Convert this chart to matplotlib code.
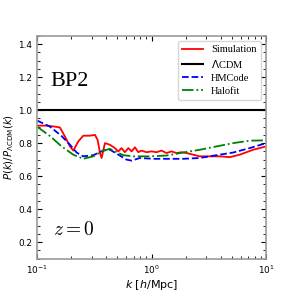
import numpy as np
import matplotlib
matplotlib.use("Agg")
import matplotlib.pyplot as plt
from matplotlib.ticker import AutoMinorLocator, LogLocator, NullFormatter

# log10(k) and ratio values
sim_logk = [-1.0, -0.916, -0.843, -0.80, -0.756, -0.712, -0.683, -0.64, -0.596, -0.538,
            -0.494, -0.471, -0.45, -0.436, -0.407, -0.363, -0.32, -0.29, -0.262, -0.233,
            -0.203, -0.174, -0.145, -0.116, -0.087, -0.044, 0.0, 0.044, 0.087, 0.131,
            0.174, 0.218, 0.262, 0.305, 0.363, 0.42, 0.509, 0.596, 0.683, 0.77, 0.887, 1.0]
sim_ratio = [0.906, 0.906, 0.90, 0.895, 0.84, 0.78, 0.755, 0.81, 0.845, 0.845,
             0.85, 0.82, 0.74, 0.71, 0.80, 0.79, 0.77, 0.75, 0.77, 0.745,
             0.77, 0.75, 0.775, 0.745, 0.755, 0.745, 0.75, 0.745, 0.755, 0.74,
             0.75, 0.74, 0.745, 0.74, 0.73, 0.72, 0.72, 0.72, 0.715, 0.73, 0.76, 0.78]

hm_logk = [-1.0, -0.887, -0.785, -0.712, -0.654, -0.596, -0.509, -0.422, -0.363, -0.29,
           -0.218, -0.174, -0.102, 0.015, 0.276, 0.422, 0.567, 0.712, 0.858, 1.0]
hm_ratio = [0.937, 0.90, 0.843, 0.79, 0.743, 0.72, 0.727, 0.755, 0.76, 0.73,
            0.70, 0.694, 0.71, 0.705, 0.705, 0.71, 0.727, 0.743, 0.77, 0.80]

hf_logk = [-1.0, -0.887, -0.785, -0.683, -0.596, -0.509, -0.422, -0.363, -0.305, -0.247,
           -0.16, -0.015, 0.131, 0.276, 0.422, 0.567, 0.712, 0.858, 1.0]
hf_ratio = [0.90, 0.843, 0.78, 0.73, 0.705, 0.72, 0.755, 0.765, 0.745, 0.727,
            0.72, 0.72, 0.725, 0.743, 0.76, 0.78, 0.80, 0.815, 0.817]

lcdm_ratio = 1.0

fig = plt.figure(figsize=(2.96, 2.96), dpi=100)
ax = fig.add_axes([0.125, 0.126, 0.774, 0.753])

ax.plot(10 ** np.array(sim_logk), sim_ratio, color='red', lw=1.3, label='Simulation')
ax.axhline(lcdm_ratio, color='black', lw=1.5, label=r'$\Lambda$CDM')
ax.plot(10 ** np.array(hm_logk), hm_ratio, color='blue', lw=1.3, ls='--', label='HMCode')
ax.plot(10 ** np.array(hf_logk), hf_ratio, color='green', lw=1.3, ls='-.', label='Halofit')

ax.set_xscale('log')
ax.set_xlim(0.1, 10)
ax.set_ylim(0.1, 1.45)
ax.set_yticks([0.2, 0.4, 0.6, 0.8, 1.0, 1.2, 1.4])
ax.yaxis.set_minor_locator(AutoMinorLocator(4))
ax.xaxis.set_minor_locator(LogLocator(base=10, subs=np.arange(2, 10)))
ax.xaxis.set_minor_formatter(NullFormatter())
ax.tick_params(which='both', direction='in', top=True, right=True, labelsize=6.4)
ax.tick_params(which='major', length=3.5, width=0.8)
ax.tick_params(which='minor', length=2, width=0.6)
for s in ax.spines.values():
    s.set_color('#9a9a9a')
    s.set_linewidth(1.2)

ax.set_xlabel(r'$k$ [$h$/Mpc]', fontsize=8, labelpad=1.5)
ax.set_ylabel(r'$P(k)/P_{\Lambda{\rm CDM}}(k)$', fontsize=7.3, labelpad=1.5)

ax.text(0.06, 0.797, 'BP2', transform=ax.transAxes, fontsize=16,
        family='Liberation Serif', va='center')
ax.text(0.07, 0.133, r'$z=0$', transform=ax.transAxes, fontsize=14,
        math_fontfamily='cm', va='center')

leg = ax.legend(loc='upper right', prop={'family': 'Liberation Serif', 'size': 7.5},
                handlelength=2.0, labelspacing=0.35, borderaxespad=0.5)

fig.savefig('out.png', dpi=100)
